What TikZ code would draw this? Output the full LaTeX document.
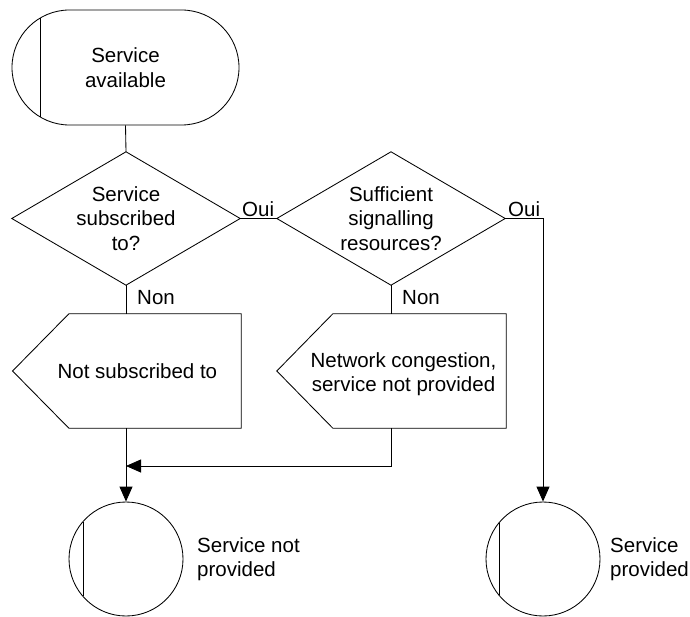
\documentclass[tikz,border=0pt]{standalone}
\usepackage{fontspec}
\setmainfont{Liberation Sans}
\usetikzlibrary{arrows.meta,calc}
\begin{document}
\begin{tikzpicture}[x=1pt,y=-1pt,
  every node/.style={font=\fontsize{20.5}{24.5}\selectfont, align=center, inner sep=0pt},
  line/.style={line width=0.85pt, draw=black},
  arr/.style={line, -{Triangle[length=15pt,width=13pt]}},
  term/.style={draw, line, rounded corners=57.5pt, minimum width=227pt, minimum height=115pt},
  decision/.style={minimum width=228pt, minimum height=133pt},
  outbox/.style={minimum height=114pt},
  endstate/.style={draw, line, circle, minimum size=114pt},
  branch/.style={anchor=base west}
]
\useasboundingbox (0,0) rectangle (690,617);

% start terminal
\node[term] (start) at (125.5,67.5) {Service\\available};
\draw[line] ($(start.west)+(28.7,-49.8)$) -- ($(start.west)+(28.7,49.8)$);

% decisions
\node[decision] (d1) at (126,218.5) {Service\\subscribed\\to?};
\draw[line] (d1.north) -- (d1.east) -- (d1.south) -- (d1.west) -- cycle;
\node[decision] (d2) at (391,218.5) {Sufficient\\signalling\\resources?};
\draw[line] (d2.north) -- (d2.east) -- (d2.south) -- (d2.west) -- cycle;

% output boxes
\node[outbox, minimum width=228.3pt, label={[xshift=10.5pt]center:Not subscribed to}] (b1) at (126.9,371) {};
\draw[line] (b1.north east) -- (b1.south east) -- ($(b1.south west)+(56.3,0)$) -- (b1.west) -- ($(b1.north west)+(56.3,0)$) -- cycle;
\node[outbox, minimum width=229pt, label={[xshift=12pt,yshift=-3pt]center:{Network congestion,\\service not provided}}] (b2) at (391.5,371) {};
\draw[line] (b2.north east) -- (b2.south east) -- ($(b2.south west)+(56,0)$) -- (b2.west) -- ($(b2.north west)+(56,0)$) -- cycle;

% end states
\node[endstate] (c1) at (126,559) {};
\draw[line] ($(c1.center)+(-43,-37.4)$) -- ($(c1.center)+(-43,37.4)$);
\node[anchor=west, align=left] (l1) at (197,559) {Service not\\provided};
\node[endstate] (c2) at (543,559) {};
\draw[line] ($(c2.center)+(-44,-36.2)$) -- ($(c2.center)+(-44,36.2)$);
\node[anchor=west, align=left] (l2) at (610,559) {Service\\provided};

% branch labels
\node[branch] (oui1) at (242,217) {Oui};
\node[branch] (non1) at (137,305) {Non};
\node[branch] (oui2) at (508,217) {Oui};
\node[branch] (non2) at (402,305) {Non};

% connectors
\draw[line] (start.south) -- (d1.north);
\draw[line] (d1.east) -- (d2.west);
\draw[line] (d1.south) -- (d1.south |- b1.north);
\draw[arr] (d1.south |- b1.south) -- (c1.north);
\draw[line] (d2.south) -- (d2.south |- b2.north);
\coordinate (j) at (126,466);
\draw[arr] (d2.south |- b2.south) -- (d2.south |- j) -- (j);
\draw[arr] (d2.east) -- (d2.east -| c2.north) -- (c2.north);
\end{tikzpicture}
\end{document}
